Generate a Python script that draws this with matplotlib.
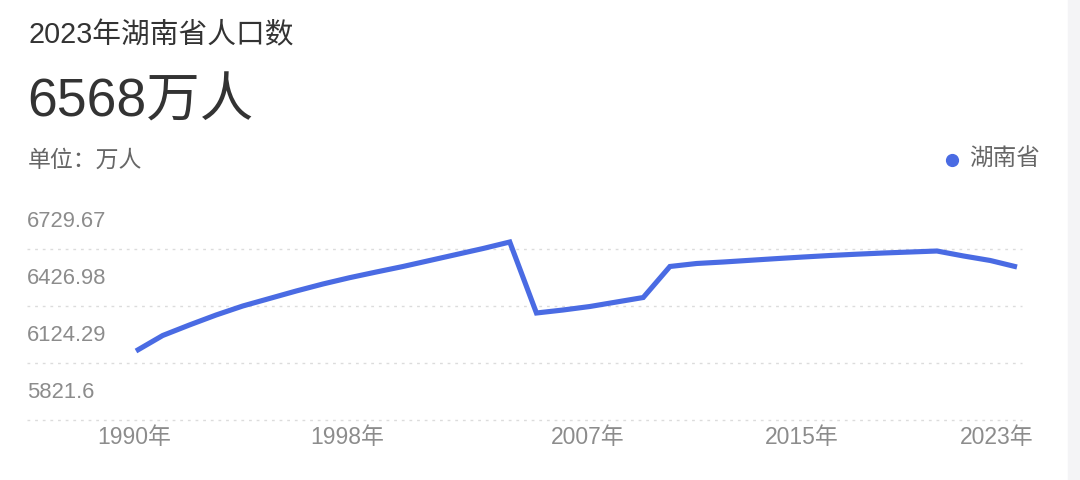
import matplotlib.pyplot as plt
import matplotlib.patches as mpatches
from matplotlib.lines import Line2D

# 湖南省人口 (万人), values
years = list(range(1990, 2024))
population = [6188.0, 6270.3, 6326.1, 6379.2, 6427.0, 6466.8, 6506.6, 6543.8,
              6577.3, 6607.5, 6636.8, 6668.6, 6700.5, 6732.3, 6766.8, 6389.8,
              6405.8, 6424.3, 6448.2, 6472.1, 6636.8, 6652.7, 6660.6, 6669.7,
              6678.7, 6687.2, 6695.2, 6702.1, 6708.4, 6713.7, 6719.0, 6692.5,
              6668.6, 6634.1]
y_ticks = [5821.6, 6124.29, 6426.98, 6729.67]
y_labels = ["5821.6", "6124.29", "6426.98", "6729.67"]
x_ticks = [1990, 1998, 2007, 2015, 2023]
x_labels = ["1990年", "1998年", "2007年", "2015年", "2023年"]

W, H = 1080, 481
fam = ['Liberation Sans', 'Noto Sans CJK SC']
blue = '#4A6BE3'

fig = plt.figure(figsize=(W / 100, H / 100), dpi=100)
fig.patch.set_facecolor('white')

# page edge on the right
fig.patches.append(mpatches.Rectangle((1068 / W, 0), 12 / W, 1, transform=fig.transFigure,
                                      color='#f4f4f6', zorder=0))

ax = fig.add_axes([27 / W, 1 - 421 / H, (1022 - 27) / W, (421 - 250) / H])
ax.plot(years, population, color=blue, linewidth=3.7, solid_joinstyle='miter',
        solid_capstyle='butt', clip_on=False, zorder=3)

ax.set_xlim(1990 - 109 / 26.7, 2023 + 5 / 26.7)
ax.set_ylim(y_ticks[0], y_ticks[-1])
for v in y_ticks:
    ax.axhline(v, color='#dcdcdc', linewidth=1, linestyle=(0, (2, 3.5)), zorder=1,
               clip_on=False)

for s in ax.spines.values():
    s.set_visible(False)
ax.set_xticks([])
ax.set_yticks([])

for v, lab in zip(y_ticks, y_labels):
    ax.annotate(lab, xy=(0, v), xycoords=ax.get_yaxis_transform(),
                xytext=(0, 20.5), textcoords='offset points', ha='left', va='center',
                fontsize=15.8, color='#8c8c8c', family=fam)

for i, (yr, lab) in enumerate(zip(x_ticks, x_labels)):
    dx = -14.5 if i == len(x_ticks) - 1 else -1.5
    ax.annotate(lab, xy=(yr, 0), xycoords=ax.get_xaxis_transform(),
                xytext=(dx, -12), textcoords='offset points', ha='center', va='center',
                fontsize=16.5, color='#8c8c8c', family=fam)

# header texts
fig.text(28 / W, 1 - 35 / H, "2023年湖南省人口数", fontsize=20.7, color='#333333',
         ha='left', va='center', family=fam)
fig.text(27 / W, 1 - 103 / H, "6568万人", fontsize=38.5, color='#333333',
         ha='left', va='center', family=fam)
fig.text(28 / W, 1 - 160 / H, "单位：万人", fontsize=16.5, color='#666666',
         ha='left', va='center', family=fam)

# legend
fig.add_artist(Line2D([952 / W], [1 - 161 / H], marker='o', markersize=8.5,
                      color=blue, transform=fig.transFigure))
fig.text(969 / W, 1 - 160 / H, "湖南省", fontsize=17, color='#666666',
         ha='left', va='center', family=fam)

fig.savefig('out.png', dpi=100)
